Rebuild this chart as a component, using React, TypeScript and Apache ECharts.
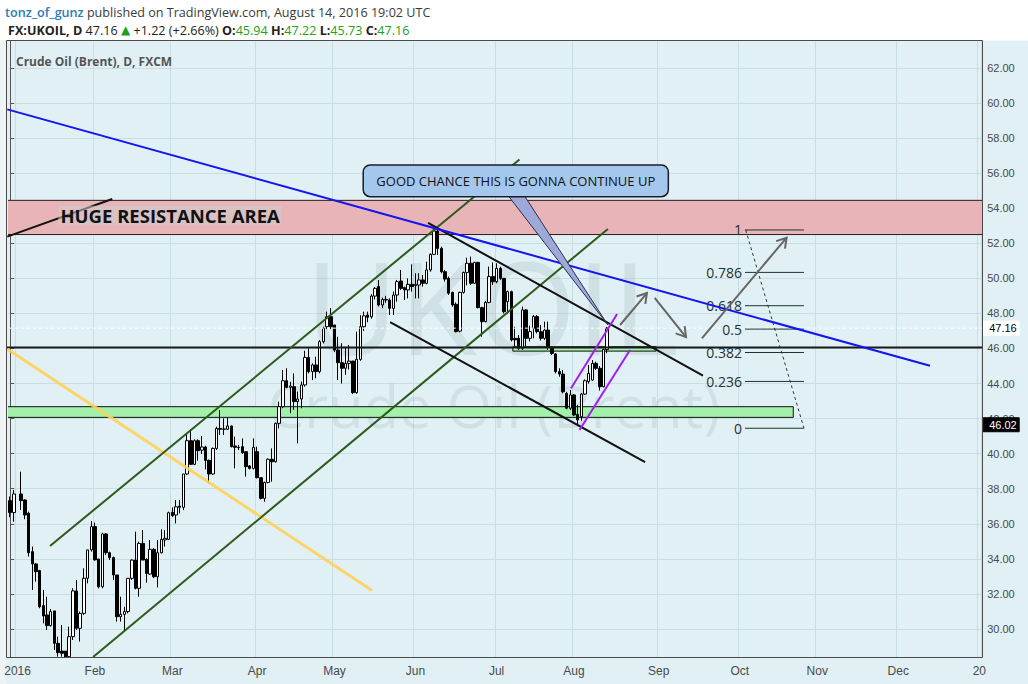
import React, { useEffect, useRef } from "react";
import * as echarts from "echarts";

// ---------- data ----------
const FIRST_DAY = "2015-12-30";
const LAST_DAY = "2017-01-02";
const monthLabels = ["2016", "Feb", "Mar", "Apr", "May", "Jun", "Jul", "Aug", "Sep", "Oct", "Nov", "Dec", "20"];

// daily bars [open, high, low, close] from 2015-12-30 (weekdays); null = no bar
const ohlc: (number[] | null)[] = [
  [37.32, 37.55, 36.37, 36.64], [36.64, 37.93, 36.12, 37.7], null,
  [37.7, 38.97, 36.79, 37.32], [37.36, 37.4, 36.26, 36.5], [36.6, 36.69, 34.13, 34.35],
  [34.41, 34.7, 32.22, 33.71], [33.71, 33.75, 32.7, 33.27], [33.33, 33.37, 31.18, 31.27],
  [31.33, 32.22, 30.32, 30.74], [30.8, 31.84, 29.94, 30.19], [30.19, 31.14, 30.13, 30.99],
  [31.03, 31.03, 28.8, 29.18], [29.18, 29.56, 28.42, 28.65], [28.74, 30.23, 28.42, 28.61],
  [28.74, 28.74, 28.1, 28.3], [28.42, 30.13, 28.23, 29.56], [29.56, 32.32, 29.37, 32.17],
  [32.17, 32.79, 29.94, 30.04], [30.04, 30.99, 29.28, 30.89], [30.89, 33.46, 30.8, 32.89],
  [32.89, 34.51, 32.6, 34.51], [34.51, 36.16, 34.41, 35.84], [35.84, 36.07, 33.9, 33.94],
  [33.99, 33.99, 32.32, 32.41], [32.41, 35.49, 32.32, 35.42], [35.42, 35.46, 34.22, 34.35],
  [34.35, 34.41, 33.94, 34.07], [34.07, 34.13, 32.79, 33.08], [33.08, 33.08, 30.42, 30.7],
  [30.7, 31.84, 30.42, 30.83], [30.83, 31.27, 29.94, 30.99], [30.99, 32.89, 30.89, 32.89],
  [32.89, 33.97, 32.8, 33.93], [33.93, 35.55, 32.26, 32.32], [32.32, 34.98, 31.84, 34.88],
  [34.88, 35.64, 33.93, 33.93], [33.97, 34.03, 32.64, 33.17], [33.13, 35.07, 33.08, 34.54],
  [34.54, 34.6, 32.9, 32.98], [32.98, 35.07, 32.37, 34.35], [34.35, 35.68, 34.31, 35.11],
  [35.08, 35.64, 34.7, 35.17], [35.11, 36.69, 35.07, 36.63], [36.65, 36.94, 36.4, 36.46],
  [36.5, 37.36, 36.02, 36.97], [37.01, 37.36, 36.59, 36.94], [36.94, 38.84, 36.78, 38.84],
  [38.84, 41.16, 38.78, 40.74], [40.74, 41.39, 39.35, 39.39], [39.39, 40.82, 39.35, 40.74],
  [40.74, 40.82, 39.6, 40.17], [40.2, 41.0, 39.98, 40.38], [40.38, 40.45, 39.1, 39.62],
  [39.62, 39.66, 38.3, 38.84], [38.84, 40.35, 38.78, 40.3], [40.3, 41.54, 40.21, 41.44],
  [41.44, 42.49, 41.06, 41.39], [41.39, 42.01, 41.06, 41.41], [41.39, 42.07, 41.35, 41.58],
  [41.58, 41.6, 40.36, 40.4], [40.44, 40.97, 39.16, 40.36], [40.36, 40.5, 40.2, 40.34],
  [40.4, 40.87, 39.98, 40.06], [40.11, 40.11, 38.69, 39.26], [39.3, 39.35, 39.1, 39.16],
  [39.16, 40.87, 39.1, 40.36], [40.11, 40.4, 38.59, 38.63], [38.63, 38.63, 37.39, 37.45],
  [37.45, 38.4, 37.26, 38.36], [38.36, 39.73, 38.31, 39.68], [39.68, 40.3, 38.4, 39.54],
  [39.54, 41.77, 39.49, 41.73], [41.73, 42.97, 41.44, 42.68], [42.68, 44.77, 42.59, 44.16],
  [44.16, 44.87, 43.73, 43.78], [43.78, 44.1, 42.3, 43.86], [43.82, 44.58, 42.5, 42.97],
  [42.97, 43.54, 40.59, 43.12], [43.12, 44.11, 42.59, 43.92], [43.92, 45.87, 43.82, 45.49],
  [45.49, 46.01, 44.58, 44.68], [44.68, 45.15, 44.2, 45.06], [45.06, 45.53, 44.3, 44.68],
  [44.68, 46.48, 44.58, 46.39], [46.39, 47.24, 46.29, 47.15], [47.24, 48.1, 47.1, 47.81],
  [47.81, 48.3, 47.1, 47.24], [47.34, 47.34, 45.8, 45.91], [45.91, 46.67, 44.2, 45.19],
  [45.19, 46.3, 44.0, 44.87], [44.87, 46.1, 44.5, 45.15], [45.15, 46.2, 44.8, 45.28],
  [45.28, 45.3, 43.4, 43.48], [43.48, 46.96, 43.42, 45.38], [45.38, 47.9, 45.3, 47.24],
  [47.24, 48.1, 47.0, 47.86], [47.91, 48.1, 47.5, 47.78], [47.81, 49.1, 47.7, 48.99],
  [48.99, 49.5, 48.8, 49.43], [49.53, 49.9, 48.4, 48.48], [48.48, 48.9, 48.3, 48.8],
  [48.8, 49.0, 48.6, 48.76], [48.76, 48.86, 47.91, 48.29], [48.29, 49.24, 47.91, 49.05],
  [49.05, 49.91, 48.67, 49.81], [49.85, 50.48, 49.34, 49.43], [49.47, 49.53, 48.77, 49.34],
  [49.34, 50.0, 48.86, 49.66], [49.66, 50.8, 49.24, 49.53], [49.58, 50.29, 48.86, 49.66],
  [49.62, 50.29, 48.86, 49.91], [49.91, 50.19, 49.53, 49.72], [49.72, 50.95, 49.66, 50.48],
  [50.48, 51.43, 50.38, 51.37], [51.37, 52.85, 51.33, 52.7], [52.7, 52.85, 51.33, 51.71],
  [51.71, 51.81, 50.29, 50.38], [50.38, 50.48, 49.81, 49.96], [50.0, 50.1, 49.05, 49.15],
  [49.2, 49.24, 48.38, 48.48], [48.52, 48.63, 46.92, 46.96], [46.99, 49.24, 46.92, 49.2],
  [49.2, 50.38, 49.13, 50.34], [50.34, 51.18, 49.6, 50.86], [50.86, 51.24, 49.62, 49.72],
  [49.72, 50.95, 49.7, 50.91], [50.91, 50.95, 48.29, 48.33], [48.33, 48.38, 46.67, 47.53],
  [47.53, 48.71, 47.49, 48.63], [48.63, 50.67, 48.58, 50.1], [50.1, 50.91, 49.62, 49.81],
  [49.81, 50.86, 49.72, 50.57], [50.57, 50.67, 49.91, 50.0], [50.0, 50.0, 48.0, 48.1],
  [48.67, 49.3, 48.0, 49.24], [49.24, 49.3, 46.4, 46.49], [46.58, 47.24, 46.1, 46.49],
  [46.58, 46.77, 45.91, 46.01], [46.01, 48.39, 45.91, 48.2], [48.2, 48.23, 46.1, 46.58],
  [46.58, 47.3, 46.4, 46.96], [47.15, 47.91, 46.58, 47.82], [47.82, 47.91, 46.86, 46.96],
  [46.96, 47.34, 46.45, 46.58], [46.58, 47.53, 46.49, 47.05], [47.05, 47.53, 45.91, 46.1],
  [46.01, 46.1, 45.63, 45.72], [45.69, 45.72, 44.58, 44.68], [44.68, 44.87, 44.39, 44.54],
  [44.54, 44.77, 43.44, 43.53], [43.44, 43.53, 42.53, 42.59], [42.59, 43.63, 42.49, 43.35],
  [43.35, 43.4, 42.15, 42.21], [42.24, 42.78, 41.6, 41.92], [42.11, 43.44, 41.88, 43.4],
  [43.4, 44.24, 43.35, 44.16], [44.11, 45.06, 44.0, 44.58], [44.2, 45.34, 44.16, 45.15],
  [45.15, 45.25, 44.77, 44.87], [44.87, 45.0, 43.6, 43.82], [43.82, 46.0, 43.78, 45.94],
  [45.94, 47.22, 45.73, 47.16],
];

// drawings, in [bar index, price]
const blueTrend = [[-0.8, 59.64], [249.6, 45.01]];
const blackStub = [[-0.8, 52.38], [27.7, 54.53]];
const yellowTrend = [[-0.8, 45.97], [98.2, 32.2]];
const greenUpper = [[10.8, 34.73], [138.2, 56.78]];
const greenLower = [[22.5, 28.4], [162.2, 52.82]];
const blackUpper = [[113.4, 53.16], [188.0, 44.45]];
const blackLower = [[103.1, 47.51], [172.3, 39.52]];
const purpleUpper = [[152.2, 43.73], [164.7, 47.97]];
const purpleLower = [[154.5, 41.35], [168.2, 45.91]];
const keyLevel = 46.05;
const keyLevelText = "46.02";
const keyLevelTagAt = 41.65;
const lastPrice = 47.16;

const resistanceZone = [-2, 266, 52.5, 54.45];
const supportZone = [-2, 212.5, 42.07, 42.68];
const retestZone = [136.4, 175.3, 45.85, 46.1];
const resistanceLabel = "HUGE RESISTANCE AREA";
const resistanceLabelAt = [43.4, 53.6];

const calloutBox = [95.8, 178.6, 54.66, 56.47];
const calloutTail = [[135.2, 54.7], [139.6, 54.7], [162.2, 47.34]];
const calloutText = "GOOD CHANCE THIS IS GONNA CONTINUE UP";

const arrows = [
  [165.5, 47.34, 172.8, 49.16],
  [174.9, 48.88, 183.4, 46.65],
  [187.7, 46.58, 210.7, 52.32],
];

const fibLow = 41.45;
const fibHigh = 52.76;
const fibLevels = [1, 0.786, 0.618, 0.5, 0.382, 0.236, 0];
const fibSpan = [199.4, 215.4];
const fibLabelAt = 198.6;
const fibDiagonal = [[199.6, 52.76], [215.4, 41.45]];

const author = "tonz_of_gunz";
const published = "published on TradingView.com, August 14, 2016 19:02 UTC";
const symbolName = "FX:UKOIL, D";
const paneTitle = "Crude Oil (Brent), D, FXCM";
const watermark1 = "UKOIL";
const watermark2 = "Crude Oil (Brent)";

const yMin = 28;
const yMax = 64;
const yStep = 2;

// ---------- helpers ----------
function weekdays(a: string, b: string): string[] {
  const out: string[] = [];
  let d = new Date(a + "T00:00:00Z");
  const e = new Date(b + "T00:00:00Z");
  while (d <= e) {
    const w = d.getUTCDay();
    if (w !== 0 && w !== 6) out.push(d.toISOString().slice(0, 10));
    d = new Date(d.getTime() + 86400000);
  }
  return out;
}

const BG = "#e0f0f4";
const GRIDC = "#c9dee4";
const FONT = '"Open Sans", "DejaVu Sans", sans-serif';
const AXFONT = '"Liberation Sans Narrow", "Liberation Sans", Arial, sans-serif';

export default function App() {
  const ref = useRef<HTMLDivElement>(null);
  useEffect(() => {
    document.body.style.margin = "0";
    if (!ref.current) return;
    const chart = echarts.init(ref.current, undefined, { renderer: "svg" });

    const dates = weekdays(FIRST_DAY, LAST_DAY);
    const N = dates.length;
    const labelAt = new Map<number, string>();
    let m = 0;
    for (let i = 1; i < N; i++) {
      if (dates[i].slice(5, 7) !== dates[i - 1].slice(5, 7)) {
        labelAt.set(i, monthLabels[m++] ?? "");
      }
    }

    const BAR = 3.685;
    const GL = 8.35;
    const GW = N * BAR;
    const PX = 17.53;
    const GT = 68 - (yMax - 62) * PX;
    const GH = (yMax - yMin) * PX;

    const last = ohlc[ohlc.length - 1] as number[];
    const prev = ohlc[ohlc.length - 2] as number[];
    const chg = last[3] - prev[3];
    const pct = (chg / prev[3]) * 100;

    const line = (pts: number[][], color: string, width: number, z: number, type: any = "solid") => ({
      type: "line",
      xAxisIndex: 1,
      yAxisIndex: 0,
      data: pts,
      showSymbol: false,
      symbol: "none",
      silent: true,
      z,
      lineStyle: { color, width, type },
      clip: true,
    });

    const zone = (zn: number[], fill: string, stroke: string, z: number) => ({
      type: "custom",
      xAxisIndex: 1,
      yAxisIndex: 0,
      silent: true,
      clip: true,
      z,
      data: [zn],
      renderItem: (_p: any, api: any) => {
        const a = api.coord([api.value(0), api.value(3)]);
        const b = api.coord([api.value(1), api.value(2)]);
        return {
          type: "rect",
          shape: { x: a[0], y: a[1], width: b[0] - a[0], height: b[1] - a[1] },
          style: { fill, stroke, lineWidth: 1 },
        };
      },
    });

    const option: any = {
      animation: false,
      grid: [
        { left: GL, top: GT, width: GW, height: GH, show: false },
        { left: GL, top: 663, width: GW, height: 1, show: false },
      ],
      xAxis: [
        {
          type: "category",
          gridIndex: 0,
          data: dates,
          boundaryGap: true,
          axisLine: { show: false },
          axisTick: { show: false },
          axisLabel: { show: false },
          splitLine: { show: true, interval: (i: number) => labelAt.has(i), lineStyle: { color: GRIDC, width: 1 } },
        },
        { type: "value", gridIndex: 0, min: -0.5, max: N - 0.5, show: false },
        {
          type: "category",
          gridIndex: 1,
          data: dates,
          boundaryGap: true,
          z: 100,
          axisLine: { show: false },
          axisTick: { show: false },
          splitLine: { show: false },
          axisLabel: {
            interval: (i: number) => labelAt.has(i),
            formatter: (_v: string, i: number) => labelAt.get(i) ?? "",
            color: "#4a4a4a",
            fontSize: 12,
            fontFamily: AXFONT,
            margin: 1,
          },
        },
      ],
      yAxis: [
        {
          type: "value",
          gridIndex: 0,
          position: "right",
          min: yMin,
          max: yMax,
          interval: yStep,
          axisLine: { show: true, lineStyle: { color: "#555" } },
          axisTick: { show: true, length: 4, lineStyle: { color: "#555" } },
          axisLabel: {
            formatter: (v: number) => (v <= yMin || v >= yMax ? "" : v.toFixed(2)),
            color: "#4a4a4a",
            fontSize: 11,
            fontFamily: '"Liberation Sans", Arial, sans-serif',
            margin: 6,
          },
          splitLine: { show: true, lineStyle: { color: GRIDC, width: 1 } },
        },
        { type: "value", gridIndex: 1, show: false },
      ],
      series: [
        zone(resistanceZone, "#e8b4b8", "#2b1c1c", 1),
        zone(supportZone, "#a3f0aa", "#111", 1),
        zone(retestZone, "#a3f0aa", "#111", 1),
        {
          type: "candlestick",
          xAxisIndex: 0,
          yAxisIndex: 0,
          z: 3,
          barWidth: 3,
          clip: true,
          silent: true,
          data: ohlc.map((d) => (d ? [d[0], d[3], d[2], d[1]] : ["-", "-", "-", "-"])),
          itemStyle: { color: "#ffffff", color0: "#000000", borderColor: "#000000", borderColor0: "#000000", borderWidth: 1 },
        },
        line([[-2, lastPrice], [N + 2, lastPrice]], "#ffffff", 1, 4, [3, 3]),
        line([[-2, keyLevel], [N + 2, keyLevel]], "#1a1a1a", 2, 5),
        line(yellowTrend, "rgba(255,210,90,0.9)", 3, 5),
        line(greenUpper, "#2c5a1a", 2, 5),
        line(greenLower, "#2c5a1a", 2, 5),
        line(blackStub, "#111", 2, 5),
        line(blackUpper, "#111", 2, 5),
        line(blackLower, "#111", 2, 5),
        line(purpleUpper, "#a21df2", 2, 5),
        line(purpleLower, "#a21df2", 2, 5),
        line(blueTrend, "#1414f0", 2, 6),
        line(fibDiagonal, "#2a3a3a", 1, 5, [3, 3]),
        {
          type: "custom",
          xAxisIndex: 1,
          yAxisIndex: 0,
          silent: true,
          z: 6,
          data: fibLevels.map((l) => [fibSpan[0], fibLow + l * (fibHigh - fibLow), l]),
          renderItem: (_p: any, api: any) => {
            const v = api.value(1);
            const l = api.value(2);
            const a = api.coord([fibSpan[0], v]);
            const b = api.coord([fibSpan[1], v]);
            const t = api.coord([fibLabelAt, v]);
            return {
              type: "group",
              children: [
                { type: "line", shape: { x1: a[0], y1: a[1], x2: b[0], y2: b[1] }, style: { stroke: "#1f3333", lineWidth: 1 } },
                {
                  type: "text",
                  style: { text: String(l), x: t[0], y: t[1], align: "right", verticalAlign: "middle", fill: "#1f3333", fontSize: 14, fontFamily: FONT },
                },
              ],
            };
          },
        },
        {
          type: "custom",
          xAxisIndex: 1,
          yAxisIndex: 0,
          silent: true,
          z: 7,
          data: arrows,
          renderItem: (_p: any, api: any) => {
            const p1 = api.coord([api.value(0), api.value(1)]);
            const p2 = api.coord([api.value(2), api.value(3)]);
            const ang = Math.atan2(p2[1] - p1[1], p2[0] - p1[0]);
            const L = 11;
            const s = 0.55;
            const h1 = [p2[0] - L * Math.cos(ang - s), p2[1] - L * Math.sin(ang - s)];
            const h2 = [p2[0] - L * Math.cos(ang + s), p2[1] - L * Math.sin(ang + s)];
            return {
              type: "group",
              children: [
                { type: "line", shape: { x1: p1[0], y1: p1[1], x2: p2[0], y2: p2[1] }, style: { stroke: "#666", lineWidth: 2 } },
                { type: "polyline", shape: { points: [h1, p2, h2] }, style: { stroke: "#666", lineWidth: 2, fill: null } },
              ],
            };
          },
        },
        {
          type: "custom",
          xAxisIndex: 1,
          yAxisIndex: 0,
          silent: true,
          z: 8,
          data: [resistanceLabelAt],
          renderItem: (_p: any, api: any) => {
            const p = api.coord([api.value(0), api.value(1)]);
            return {
              type: "text",
              style: {
                text: resistanceLabel,
                x: p[0],
                y: p[1],
                align: "center",
                verticalAlign: "middle",
                fill: "#111",
                fontSize: 18.5,
                fontWeight: "bold",
                fontFamily: FONT,
                backgroundColor: "rgba(205,205,205,0.55)",
                padding: [0, 2],
              },
            };
          },
        },
        {
          type: "custom",
          xAxisIndex: 1,
          yAxisIndex: 0,
          silent: true,
          z: 9,
          data: [calloutBox],
          renderItem: (_p: any, api: any) => {
            const a = api.coord([api.value(0), api.value(3)]);
            const b = api.coord([api.value(1), api.value(2)]);
            const tail = calloutTail.map((q) => api.coord(q));
            return {
              type: "group",
              children: [
                { type: "polygon", shape: { points: tail }, style: { fill: "#9ea9da", stroke: "#2a3050", lineWidth: 1 } },
                {
                  type: "rect",
                  shape: { x: a[0], y: a[1], width: b[0] - a[0], height: b[1] - a[1], r: 7 },
                  style: { fill: "#a4c7ee", stroke: "#1c1c28", lineWidth: 1.5 },
                },
                {
                  type: "text",
                  style: {
                    text: calloutText,
                    x: (a[0] + b[0]) / 2,
                    y: (a[1] + b[1]) / 2,
                    align: "center",
                    verticalAlign: "middle",
                    fill: "#111",
                    fontSize: 13,
                    fontFamily: FONT,
                  },
                },
              ],
            };
          },
        },
        {
          type: "custom",
          xAxisIndex: 1,
          yAxisIndex: 0,
          silent: true,
          clip: false,
          z: 20,
          data: [[0, lastPrice], [0, keyLevelTagAt]],
          renderItem: (p: any, api: any) => {
            const cs = p.coordSys;
            const y = api.coord([0, api.value(1)])[1];
            const dark = p.dataIndex === 1;
            const txt = dark ? keyLevelText : lastPrice.toFixed(2);
            const x0 = cs.x + cs.width + 2;
            return {
              type: "group",
              children: [
                { type: "rect", shape: { x: x0, y: y - 7, width: 36, height: 14 }, style: { fill: dark ? "#000" : "#fff", stroke: dark ? "#000" : "#fff" } },
                {
                  type: "text",
                  style: { text: txt, x: x0 + 6, y, verticalAlign: "middle", fill: dark ? "#fff" : "#000", fontSize: 11, fontFamily: '"Liberation Sans", Arial, sans-serif' },
                },
              ],
            };
          },
        },
      ],
      graphic: {
        elements: [
          { type: "text", x: 492, y: 305, z: 1, silent: true, style: { text: watermark1, align: "center", verticalAlign: "middle", fill: "rgba(70,100,110,0.1)", fontSize: 128, fontFamily: FONT } },
          { type: "text", x: 494, y: 405, z: 1, silent: true, style: { text: watermark2, align: "center", verticalAlign: "middle", fill: "rgba(70,100,110,0.1)", fontSize: 58, fontFamily: FONT } },
          { type: "rect", z: 50, silent: true, shape: { x: 0, y: 0, width: 1028, height: 40.5 }, style: { fill: "#ffffff" } },
          { type: "rect", z: 50, silent: true, shape: { x: 0, y: 657.5, width: 1028, height: 27 }, style: { fill: BG } },
          { type: "rect", z: 50, silent: true, shape: { x: 0, y: 40, width: 6.5, height: 644 }, style: { fill: "#eef4f6" } },
          { type: "rect", z: 60, silent: true, shape: { x: 6.5, y: 40.5, width: 976, height: 617 }, style: { fill: "transparent", stroke: "#4a4a4a", lineWidth: 1 } },
          {
            type: "text",
            z: 60,
            x: 16,
            y: 61,
            silent: true,
            style: { text: paneTitle, verticalAlign: "middle", fill: "#555", fontSize: 12, fontWeight: "bold", fontFamily: FONT },
          },
          {
            type: "text",
            z: 60,
            x: 5,
            y: 12,
            silent: true,
            style: {
              text: `{a|${author}}{b| ${published}}`,
              verticalAlign: "middle",
              rich: {
                a: { fill: "#2b7bb9", fontSize: 12.6, fontWeight: 600, fontFamily: FONT },
                b: { fill: "#3a3a3a", fontSize: 12.6, fontFamily: FONT },
              },
            },
          },
          {
            type: "text",
            z: 60,
            x: 8,
            y: 30,
            silent: true,
            style: {
              text:
                `{k|${symbolName}}{n| ${last[3].toFixed(2)} }{g|▲}{n| +${chg.toFixed(2)} (+${pct.toFixed(2)}%) }` +
                `{k|O:}{v|${last[0].toFixed(2)}}{k| H:}{v|${last[1].toFixed(2)}}{k| L:}{v|${last[2].toFixed(2)}}{k| C:}{v|${last[3].toFixed(2)}}`,
              verticalAlign: "middle",
              rich: {
                k: { fill: "#222", fontSize: 12.6, fontWeight: "bold", fontFamily: FONT },
                n: { fill: "#222", fontSize: 12.6, fontFamily: FONT },
                g: { fill: "#1f9e1f", fontSize: 12, fontFamily: "DejaVu Sans" },
                v: { fill: "#22a022", fontSize: 12.6, fontFamily: FONT },
              },
            },
          },
        ],
      },
    };

    chart.setOption(option);
    return () => chart.dispose();
  }, []);

  return <div ref={ref} style={{ position: "absolute", left: 0, top: 0, width: 1028, height: 684, background: BG }} />;
}
